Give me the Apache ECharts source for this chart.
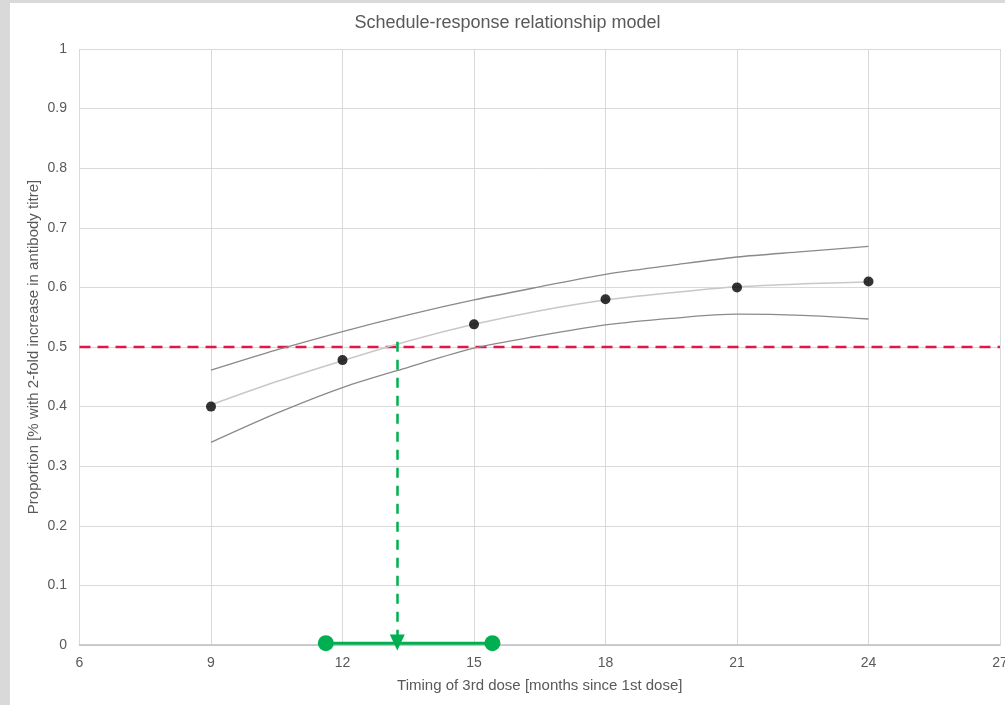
<!DOCTYPE html>
<html>
<head>
<meta charset="utf-8">
<script src="https://cdn.jsdelivr.net/npm/echarts@6/dist/echarts.min.js"></script>
<style>
html,body{margin:0;padding:0;background:#d9d9d9;width:1005px;height:705px;overflow:hidden;}
#c{position:absolute;left:10px;top:3px;width:995px;height:702px;background:#fff;}
</style>
</head>
<body>
<div id="c"></div>
<script>
var months = [9, 12, 15, 18, 21, 24];
var observed = [0.40, 0.478, 0.538, 0.58, 0.60, 0.61];
var fitMonths = [9, 10.5, 12, 13.5, 15, 16.5, 18, 19.5, 21, 22.5, 24];
var fitMid = [0.403, 0.442, 0.477, 0.510, 0.538, 0.561, 0.579, 0.591, 0.601, 0.606, 0.609];
var fitUpper = [0.461, 0.495, 0.526, 0.554, 0.579, 0.601, 0.622, 0.637, 0.651, 0.660, 0.669];
var fitLower = [0.340, 0.389, 0.432, 0.466, 0.498, 0.519, 0.537, 0.548, 0.555, 0.553, 0.547];
var threshold = 0.5;
var thresholdX = [6, 27];
var arrowX = 13.25;
var arrowY = [0.509, 0.004];
var ciRange = [11.62, 15.42];
var xTicks = [6, 9, 12, 15, 18, 21, 24, 27];

function pairs(xs, ys) { return xs.map(function (x, i) { return [x, ys[i]]; }); }

var font = 'Liberation Sans, Arial, sans-serif';
var chart = echarts.init(document.getElementById('c'));
chart.setOption({
  backgroundColor: '#fff',
  animation: false,
  title: {
    text: 'Schedule-response relationship model',
    left: 'center',
    top: 6,
    textStyle: { fontFamily: font, fontSize: 18, fontWeight: 'normal', color: '#595959' }
  },
  grid: { left: 69.5, right: 5, top: 46, bottom: 60, outerBoundsMode: 'none', containLabel: false },
  xAxis: {
    type: 'value', min: xTicks[0], max: xTicks[xTicks.length - 1], interval: 3,
    name: 'Timing of 3rd dose [months since 1st dose]',
    nameLocation: 'middle', nameGap: 33, nameMoveOverlap: false,
    nameTextStyle: { fontFamily: font, fontSize: 15, color: '#595959' },
    axisLine: { show: true, onZero: false, lineStyle: { color: '#bfbfbf', width: 1.5 } },
    axisTick: { show: false },
    axisLabel: { fontFamily: font, fontSize: 14, color: '#595959', margin: 11 },
    splitLine: { show: true, lineStyle: { color: '#d9d9d9' } }
  },
  yAxis: {
    type: 'value', min: 0, max: 1, interval: 0.1,
    name: 'Proportion [% with 2-fold increase in antibody titre]',
    nameLocation: 'middle', nameGap: 38, nameRotate: 90, nameMoveOverlap: false,
    nameTextStyle: { fontFamily: font, fontSize: 15, color: '#595959' },
    axisLine: { show: false },
    axisTick: { show: false },
    axisLabel: { fontFamily: font, fontSize: 14, color: '#595959', margin: 12.5,
      formatter: function (v) { return String(Math.round(v * 10) / 10); } },
    splitLine: { show: true, lineStyle: { color: '#d9d9d9' } }
  },
  series: [
    { type: 'line', data: pairs(thresholdX, [threshold, threshold]), symbol: 'none', z: 3,
      clip: false,
      lineStyle: { color: '#e0174b', width: 2.5, type: [11, 7] } },
    { type: 'line', data: pairs(fitMonths, fitUpper), smooth: 0.3, symbol: 'none',
      lineStyle: { color: '#8a8a8a', width: 1.3 } },
    { type: 'line', data: pairs(fitMonths, fitLower), smooth: 0.3, symbol: 'none',
      lineStyle: { color: '#8a8a8a', width: 1.3 } },
    { type: 'line', data: pairs(fitMonths, fitMid), smooth: 0.3, symbol: 'none',
      lineStyle: { color: '#c8c8c8', width: 1.5 } },
    { type: 'scatter', data: pairs(months, observed), symbolSize: 10, z: 5,
      itemStyle: { color: '#000' } },
    { type: 'line', data: [], symbol: 'none', z: 6,
      markLine: {
        silent: true, symbol: ['none', 'triangle'], symbolSize: [15, 16], label: { show: false },
        lineStyle: { color: '#00b050', width: 2.5, type: [10, 8] },
        data: [[{ coord: [arrowX, arrowY[0]] }, { coord: [arrowX, arrowY[1]] }]]
      } },
    { type: 'line', data: pairs(ciRange, [0.003, 0.003]), symbol: 'circle', symbolSize: 16,
      clip: false, z: 7,
      lineStyle: { color: '#00b050', width: 3 }, itemStyle: { color: '#00b050' } }
  ]
});
</script>
</body>
</html>
